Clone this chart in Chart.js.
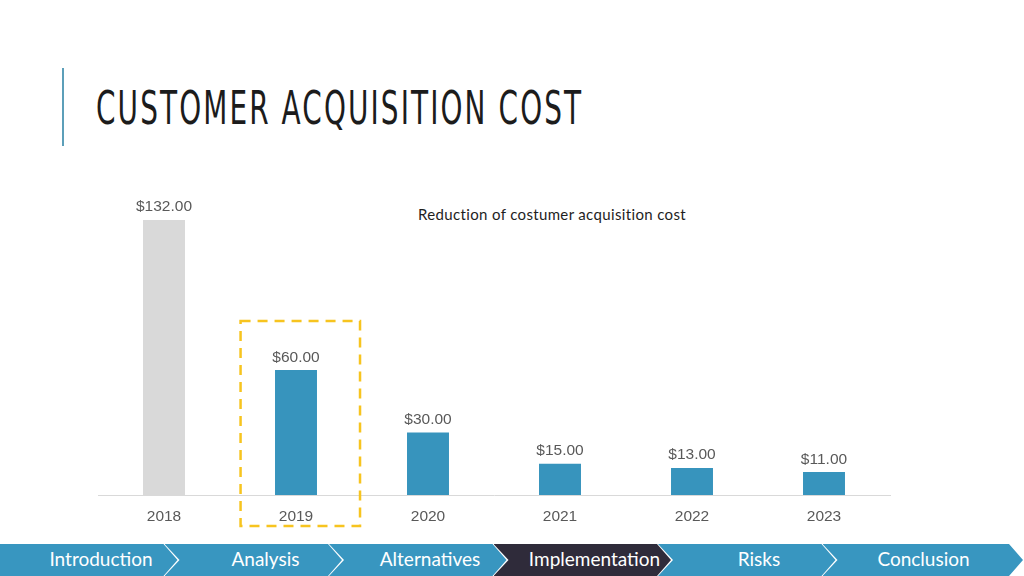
<!DOCTYPE html>
<html>
<head>
<meta charset="utf-8">
<script src="https://cdn.jsdelivr.net/npm/chart.js@4/dist/chart.umd.min.js"></script>
<style>
  html,body{margin:0;padding:0;background:#fff;}
  #wrap{position:relative;width:1024px;height:576px;overflow:hidden;background:#fff;}
  #vline{position:absolute;left:62px;top:68px;width:2px;height:78px;background:#5c9fb9;}
  #title{position:absolute;left:96px;top:80px;font-family:"DejaVu Sans Condensed","DejaVu Sans",sans-serif;font-size:47px;letter-spacing:3.2px;color:#1c1c1c;transform-origin:0 0;transform:scaleX(0.66);white-space:nowrap;line-height:56px;}
  #ctitle{position:absolute;left:418px;top:205px;font-family:"Lato","Noto Sans",sans-serif;font-size:15px;letter-spacing:0.35px;color:#1e1e1e;white-space:nowrap;}
  #cv{position:absolute;left:0;top:170px;width:1024px;height:370px;}
  .seg{position:absolute;top:544px;height:32px;color:#fff;font-family:"Lato","Noto Sans",sans-serif;font-size:19px;line-height:30px;white-space:nowrap;}
</style>
</head>
<body>
<div id="wrap">
  <div id="vline"></div>
  <div id="title">CUSTOMER ACQUISITION COST</div>
  <div id="ctitle">Reduction of costumer acquisition cost</div>
  <canvas id="cv" width="1024" height="370"></canvas>
  <div id="nav"></div>
</div>
<script>
const categories = ["2018","2019","2020","2021","2022","2023"];
const costValues = [132, 60, 30, 15, 13, 11];
const navItems = ["Introduction","Analysis","Alternatives","Implementation","Risks","Conclusion"];
const activeNav = 3;
const highlightIndex = 1;

// navigation chevrons
(function(){
  const nav = document.getElementById('nav');
  const step = 164.5, depth = 14;
  navItems.forEach((name,i)=>{
    const d = document.createElement('div');
    d.className='seg';
    const left = i*step;
    const w = (i===navItems.length-1) ? (1024-left) : (step+depth);
    d.style.left = left+'px';
    d.style.width = w+'px';
    d.style.background = (i===activeNav) ? '#2f2b3a' : '#3896c0';
    const bodyW = w - depth;
    const notch = i===0 ? '0px 50%' : (depth+1)+'px 50%';
    d.style.clipPath = `polygon(0px 0px, ${bodyW-1}px 0px, ${w-1}px 50%, ${bodyW-1}px 100%, 0px 100%, ${notch})`;
    const span = document.createElement('span');
    span.textContent = name;
    span.style.position='absolute';
    span.style.left='101px';
    span.style.transform='translateX(-50%)';
    d.appendChild(span);
    nav.appendChild(d);
  });
})();

const valueLabels = {
  id:'valueLabels',
  afterDatasetsDraw(chart){
    const ctx = chart.ctx;
    const meta = chart.getDatasetMeta(0);
    ctx.save();
    ctx.font = '15.5px "Liberation Sans", Arial, sans-serif';
    ctx.fillStyle = '#595959';
    ctx.textAlign = 'center';
    ctx.textBaseline = 'bottom';
    meta.data.forEach((bar,i)=>{
      ctx.fillText('$'+costValues[i].toFixed(2), bar.x, bar.y - 5);
    });
    ctx.restore();
  }
};

const highlightBox = {
  id:'highlightBox',
  afterDraw(chart){
    const ctx = chart.ctx;
    const xs = chart.scales.x, ys = chart.scales.y;
    const cx = xs.getPixelForValue(highlightIndex);
    const catW = xs.width/categories.length;
    const left = cx - catW*0.42, right = cx + catW*0.485;
    const top = ys.getPixelForValue(costValues[highlightIndex]) - 49;
    const bottom = chart.chartArea.bottom + 31;
    ctx.save();
    ctx.strokeStyle = '#f7c41f';
    ctx.lineWidth = 2.5;
    ctx.setLineDash([10,7]);
    ctx.strokeRect(left, top, right-left, bottom-top);
    ctx.restore();
  }
};

new Chart(document.getElementById('cv'), {
  type:'bar',
  data:{
    labels: categories,
    datasets:[{
      data: costValues,
      backgroundColor: costValues.map((v,i)=> i===0 ? '#d9d9d9' : '#3794bd'),
      categoryPercentage: 1,
      barPercentage: 0.318
    }]
  },
  options:{
    responsive:false,
    animation:false,
    devicePixelRatio:1,
    layout:{padding:{left:98,right:134,top:33.3,bottom:5}},
    plugins:{legend:{display:false},tooltip:{enabled:false},title:{display:false}},
    scales:{
      y:{display:false,min:0,max:140},
      x:{
        grid:{display:false,drawTicks:false},
        border:{display:true,color:'#d9d9d9',width:1},
        ticks:{color:'#595959',font:{family:'"Liberation Sans", Arial, sans-serif',size:15.5},padding:12},
        afterFit(scale){scale.height=40;}
      }
    }
  },
  plugins:[valueLabels, highlightBox]
});
</script>
</body>
</html>
